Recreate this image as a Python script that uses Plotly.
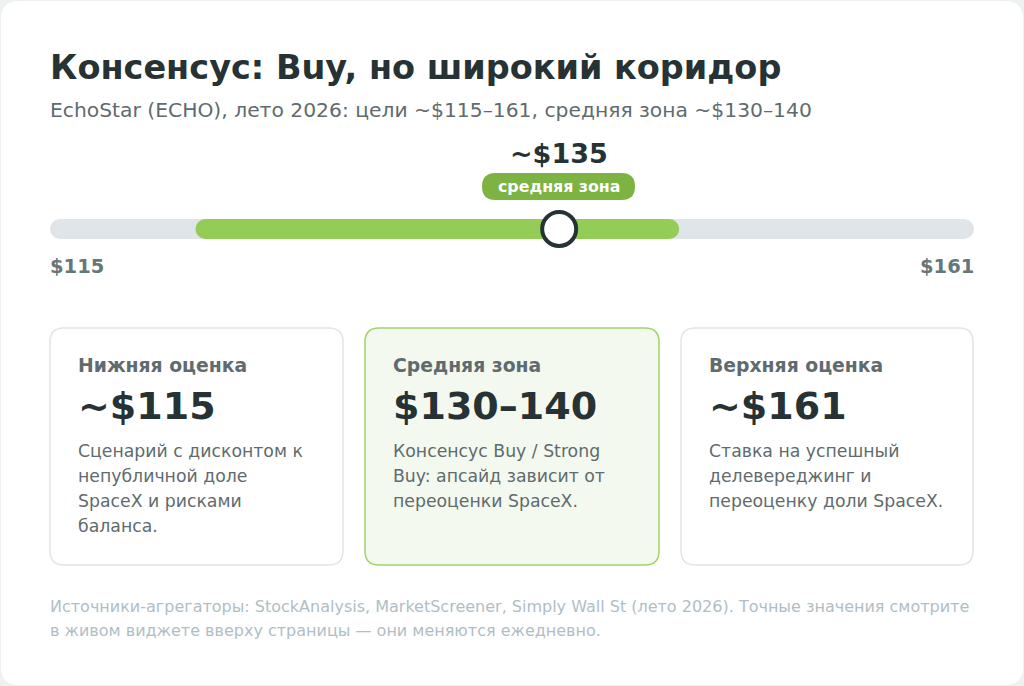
import plotly.graph_objects as go

title = "Консенсус: Buy, но широкий коридор"
subtitle = "EchoStar (ECHO), лето 2026: цели ~$115–161, средняя зона ~$130–140"
scale_min, scale_max = 115, 161
zone_drawn = [122.4, 146.0]   # green band as drawn on the scale
marker_drawn = 140.4          # marker position as drawn
marker_label = "~$135"
pill_label = "средняя зона"
card_titles = ["Нижняя оценка", "Средняя зона", "Верхняя оценка"]
card_values = ["~$115", "$130–140", "~$161"]
card_texts = [
    ["Сценарий с дисконтом к", "непубличной доле", "SpaceX и рисками", "баланса."],
    ["Консенсус Buy / Strong", "Buy: апсайд зависит от", "переоценки SpaceX."],
    ["Ставка на успешный", "делевереджинг и", "переоценку доли SpaceX."],
]
footnote = ["Источники-агрегаторы: StockAnalysis, MarketScreener, Simply Wall St (лето 2026). Точные значения смотрите",
            "в живом виджете вверху страницы — они меняются ежедневно."]

W, H = 1024, 686
F = "DejaVu Sans"
fig = go.Figure()

def rrect(x0, y0, x1, y1, r):
    return (f"M{x0+r},{y0} L{x1-r},{y0} Q{x1},{y0} {x1},{y0+r} L{x1},{y1-r} Q{x1},{y1} {x1-r},{y1} "
            f"L{x0+r},{y1} Q{x0},{y1} {x0},{y1-r} L{x0},{y0+r} Q{x0},{y0} {x0+r},{y0} Z")

shapes = [dict(type="path", path=rrect(1, 1, W-1, H-1, 18), xref="x", yref="y",
               fillcolor="white", line=dict(width=0), layer="below")]
cards = [(50, 343), (365, 659), (681, 973)]
for i, (x0, x1) in enumerate(cards):
    mid = i == 1
    shapes.append(dict(type="path", path=rrect(x0, 328, x1, 565, 14), xref="x", yref="y",
                       fillcolor="#f3f9ee" if mid else "white",
                       line=dict(color="#9fd468" if mid else "#dfe5e8", width=1.5), layer="below"))
shapes.append(dict(type="path", path=rrect(482, 173, 635, 200, 13.5), xref="x", yref="y",
                   fillcolor="#7cb342", line=dict(width=0)))

BAR_Y = 229
fig.add_trace(go.Scatter(x=[scale_min, scale_max], y=[BAR_Y, BAR_Y], xaxis="x2", yaxis="y",
                         mode="lines+markers", line=dict(color="#dfe5e8", width=20),
                         marker=dict(size=20, color="#dfe5e8"), hoverinfo="skip", cliponaxis=False))
fig.add_trace(go.Scatter(x=zone_drawn, y=[BAR_Y, BAR_Y], xaxis="x2", yaxis="y",
                         mode="lines+markers", line=dict(color="#93cd58", width=20),
                         marker=dict(size=20, color="#93cd58"), hoverinfo="skip", cliponaxis=False))
fig.add_trace(go.Scatter(x=[marker_drawn], y=[BAR_Y], xaxis="x2", yaxis="y", mode="markers",
                         marker=dict(size=34, color="white", line=dict(color="#263234", width=4)),
                         hoverinfo="skip", cliponaxis=False))

ann = []
def t(x, y, s, size, color, bold=False, xa="left", ya="middle"):
    dx = -2 if xa == "left" else (2 if xa == "right" else 0)
    ann.append(dict(x=x + dx, y=y, xref="x", yref="y", text=f"<b>{s}</b>" if bold else s, showarrow=False,
                    xanchor=xa, yanchor=ya, font=dict(family=F, size=size, color=color), align="left"))

t(50, 67, title, 33.5, "#263234", True)
t(50, 110, subtitle, 20.3, "#5f6b6e")
t(559, 153, marker_label, 27, "#263234", True, "center")
t(558.5, 186.5, pill_label, 15.8, "white", True, "center")
t(50, 266, f"${scale_min}", 19.5, "#66777a", True)
t(974, 266, f"${scale_max}", 19.5, "#66777a", True, "right")
for (x0, x1), ct, cv, cx in zip(cards, card_titles, card_values, card_texts):
    t(x0+28, 365, ct, 18.8, "#5f6b6e", True)
    t(x0+28, 406, cv, 38, "#263234", True)
    for j, line in enumerate(cx):
        t(x0+28, 451 + 25*j, line, 17.3, "#5f6b6e")
for j, line in enumerate(footnote):
    t(50, 606 + 24*j, line, 16, "#b0bec5")

fig.update_layout(
    width=W, height=H, margin=dict(l=0, r=0, t=0, b=0), paper_bgcolor="#eef1f2", plot_bgcolor="rgba(0,0,0,0)",
    showlegend=False, shapes=shapes, annotations=ann,
    xaxis=dict(range=[0, W], visible=False, fixedrange=True, domain=[0, 1]),
    xaxis2=dict(range=[scale_min, scale_max], domain=[60/W, 964/W], visible=False, anchor="y", fixedrange=True),
    yaxis=dict(range=[H, 0], visible=False, fixedrange=True),
)
fig.write_html("out.html", config=dict(displayModeBar=False),
               post_script="document.body.style.margin='0';document.body.style.overflow='hidden';")
